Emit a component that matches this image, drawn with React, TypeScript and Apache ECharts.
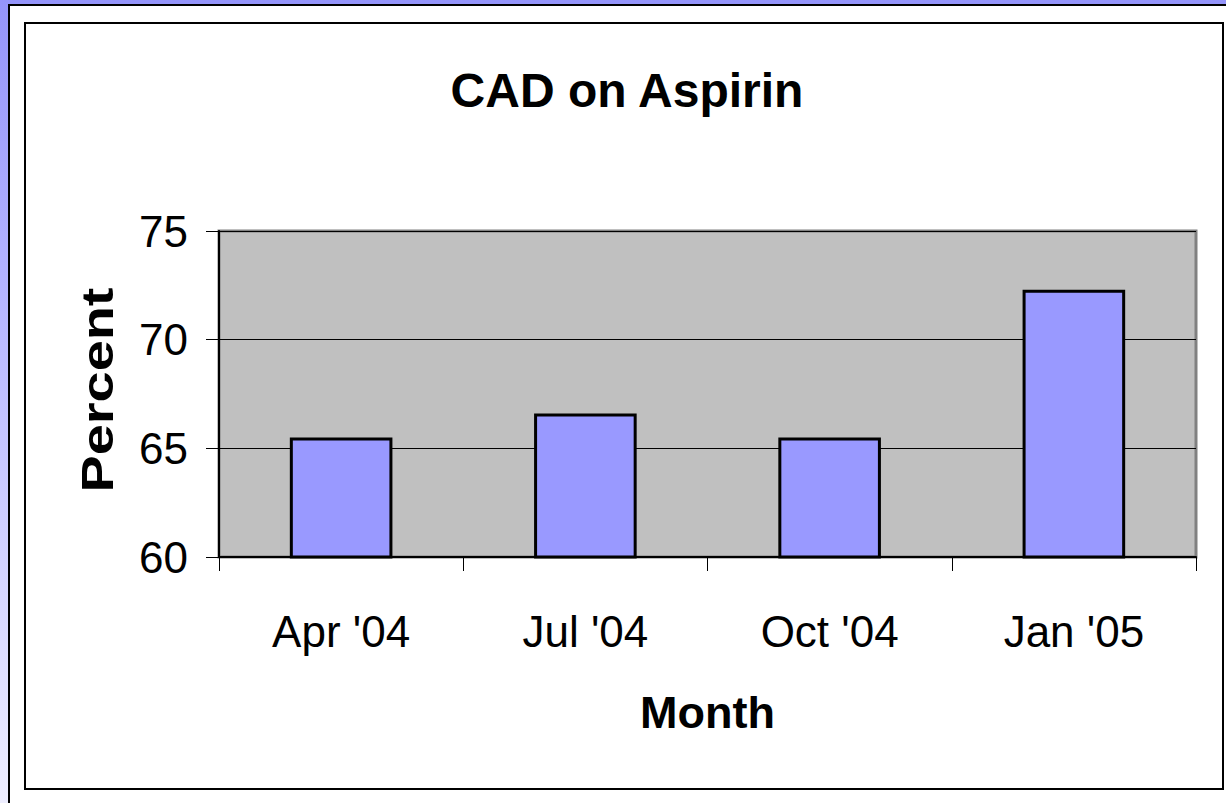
import React, { useEffect, useRef } from "react";
import * as echarts from "echarts";

const months = ["Apr '04", "Jul '04", "Oct '04", "Jan '05"];
const percentValues = [65.5, 66.6, 65.5, 72.3];
const yMin = 60;
const yMax = 75;
const yStep = 5;
const chartTitle = "CAD on Aspirin";
const xTitle = "Month";
const yTitle = "Percent";

const FONT = '"Liberation Sans", Arial, sans-serif';

export default function App() {
  const ref = useRef<HTMLDivElement>(null);
  useEffect(() => {
    if (!ref.current) return;
    const chart = echarts.init(ref.current, undefined, { renderer: "svg" });
    chart.setOption({
      animation: false,
      backgroundColor: {
        type: "linear",
        x: 0, y: 0, x2: 0, y2: 1,
        colorStops: [
          { offset: 0, color: "#9494FA" },
          { offset: 0.3, color: "#AFAFFF" },
          { offset: 1, color: "#EEEEFF" },
        ],
      },
      textStyle: { fontFamily: FONT },
      graphic: [
        {
          type: "rect",
          z: -10,
          shape: { x: 9, y: 5, width: 1240, height: 820 },
          style: { fill: "#ffffff", stroke: "#000000", lineWidth: 2 },
          silent: true,
        },
        {
          type: "rect",
          z: -9,
          shape: { x: 25, y: 23, width: 1198, height: 766 },
          style: { fill: "#ffffff", stroke: "#000000", lineWidth: 2 },
          silent: true,
        },
        {
          type: "text",
          z: 10,
          x: 98,
          y: 390,
          rotation: Math.PI / 2,
          scaleX: 1.27,
          style: {
            text: yTitle,
            fontFamily: FONT,
            fontSize: 44,
            fontWeight: "bold",
            fill: "#000",
            align: "center",
            verticalAlign: "middle",
          },
          silent: true,
        },
      ],
      title: {
        text: chartTitle,
        left: 622,
        textAlign: "center",
        top: 61,
        textStyle: { fontFamily: FONT, fontSize: 48, fontWeight: "bold", color: "#000" },
      },
      grid: {
        left: 219,
        top: 231,
        width: 977,
        height: 326,
        show: true,
        backgroundColor: "#C0C0C0",
        borderColor: "#808080",
        borderWidth: 3,
        containLabel: false,
      },
      xAxis: {
        type: "category",
        data: months,
        name: xTitle,
        nameLocation: "middle",
        nameGap: 133,
        nameTextStyle: { fontFamily: FONT, fontSize: 45, fontWeight: "bold", color: "#000" },
        axisLine: { show: true, lineStyle: { color: "#000", width: 2 } },
        axisTick: { show: true, alignWithLabel: false, length: 14, lineStyle: { color: "#000", width: 1 } },
        axisLabel: { fontFamily: FONT, fontSize: 44, color: "#000", margin: 52 },
        splitLine: { show: false },
      },
      yAxis: {
        type: "value",
        min: yMin,
        max: yMax,
        interval: yStep,
        axisLine: { show: true, lineStyle: { color: "#000", width: 2 } },
        axisTick: { show: true, length: 13, lineStyle: { color: "#000", width: 1 } },
        axisLabel: { fontFamily: FONT, fontSize: 44, color: "#000", margin: 31 },
        splitLine: { show: true, lineStyle: { color: "#000", width: 1 } },
      },
      series: [
        {
          type: "bar",
          data: percentValues,
          barCategoryGap: "58%",
          itemStyle: { color: "#9999FF", borderColor: "#000", borderWidth: 3 },
        },
      ],
    });
    return () => chart.dispose();
  }, []);
  return (
    <div
      ref={ref}
      style={{ position: "absolute", left: 0, top: 0, width: 1226, height: 803 }}
    />
  );
}
